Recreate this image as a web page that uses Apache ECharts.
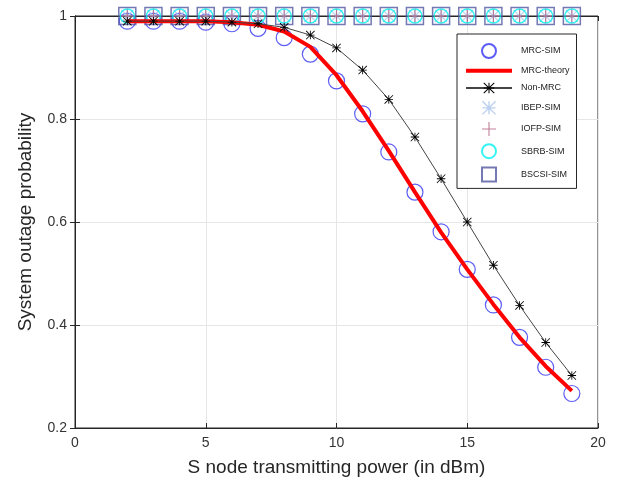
<!DOCTYPE html>
<html>
<head>
<meta charset="utf-8">
<script src="https://cdn.jsdelivr.net/npm/echarts@6/dist/echarts.min.js"></script>
<style>
  html, body { margin: 0; padding: 0; background: #fff; }
  #chart { width: 618px; height: 485px; }
</style>
</head>
<body>
<div id="chart"></div>
<script>
// x values (dBm)
var power = [2, 3, 4, 5, 6, 7, 8, 9, 10, 11, 12, 13, 14, 15, 16, 17, 18, 19];
var mrcSim = [0.99, 0.99, 0.99, 0.988, 0.985, 0.976, 0.958, 0.926, 0.874, 0.81, 0.736, 0.658, 0.581, 0.508, 0.439, 0.376, 0.318, 0.267];
var mrcTheory = [0.99, 0.99, 0.99, 0.99, 0.988, 0.983, 0.97, 0.94, 0.885, 0.815, 0.738, 0.658, 0.58, 0.508, 0.44, 0.376, 0.32, 0.272];
var nonMrc = [0.99, 0.99, 0.99, 0.99, 0.988, 0.985, 0.978, 0.963, 0.938, 0.895, 0.838, 0.765, 0.684, 0.6, 0.516, 0.438, 0.366, 0.302];
var ibepSim = [1, 1, 1, 1, 1, 1, 1, 1, 1, 1, 1, 1, 1, 1, 1, 1, 1, 1];
var iofpSim = [1, 1, 1, 1, 1, 1, 1, 1, 1, 1, 1, 1, 1, 1, 1, 1, 1, 1];
var sbrbSim = [1, 1, 1, 1, 1, 1, 1, 1, 1, 1, 1, 1, 1, 1, 1, 1, 1, 1];
var bscsiSim = [1, 1, 1, 1, 1, 1, 1, 1, 1, 1, 1, 1, 1, 1, 1, 1, 1, 1];

function pairs(ys) {
  return power.map(function (x, i) { return [x, ys[i]]; });
}

// asterisk / plus shapes made of thin bars (all clockwise so they fill as a union)
var starPath = 'path://M0 9H20V11H0Z M9 0H11V20H9Z ' +
  'M0.7 -0.7L20.7 19.3L19.3 20.7L-0.7 0.7Z ' +
  'M20.7 0.7L0.7 20.7L-0.7 19.3L19.3 -0.7Z';
var plusPath = 'path://M0 9.2H20V10.8H0Z M9.2 0H10.8V20H9.2Z';
var squarePath = 'path://M0 0H20V20H0Z';
var barPath = 'path://M0 0H46V4H0Z';

var chart = echarts.init(document.getElementById('chart'));
var font = 'Liberation Sans, Arial, sans-serif';

var option = {
  animation: false,
  grid: { left: 75, right: 20, top: 16, bottom: 57, show: true, borderColor: '#262626', borderWidth: 1 },
  legend: {
    data: [
      { name: 'MRC-SIM' },
      { name: 'MRC-theory', icon: barPath },
      { name: 'Non-MRC' },
      { name: 'IBEP-SIM' },
      { name: 'IOFP-SIM' },
      { name: 'SBRB-SIM' },
      { name: 'BSCSI-SIM' }
    ],
    orient: 'vertical',
    left: 457,
    top: 34,
    width: 120,
    itemWidth: 46,
    itemHeight: 14,
    itemGap: 7.2,
    padding: [9, 7, 6, 8],
    borderColor: '#262626',
    borderWidth: 1,
    backgroundColor: '#fff',
    textStyle: { fontFamily: font, fontSize: 9, color: '#222', padding: [0, 0, 0, 4] }
  },
  xAxis: [{
    type: 'value', min: 0, max: 20, interval: 5,
    name: 'S node transmitting power (in dBm)',
    nameLocation: 'middle', nameGap: 30,
    nameTextStyle: { fontFamily: font, fontSize: 19, color: '#262626' },
    axisLine: { lineStyle: { color: '#262626' } },
    axisTick: { inside: true, length: 5, lineStyle: { color: '#262626' } },
    axisLabel: { fontFamily: font, fontSize: 14, color: '#333', margin: 8 },
    splitLine: { show: true, lineStyle: { color: '#e6e6e6' } }
  }, {
    type: 'value', min: 0, max: 20, interval: 5, position: 'top',
    axisLine: { show: true, lineStyle: { color: '#262626' } },
    axisTick: { inside: true, length: 5, lineStyle: { color: '#262626' } },
    axisLabel: { show: false }, splitLine: { show: false }
  }],
  yAxis: [{
    type: 'value', min: 0.2, max: 1, interval: 0.2,
    name: 'System outage probability',
    nameLocation: 'middle', nameGap: 40,
    nameTextStyle: { fontFamily: font, fontSize: 19, color: '#262626' },
    axisLine: { lineStyle: { color: '#262626' } },
    axisTick: { inside: true, length: 5, lineStyle: { color: '#262626' } },
    axisLabel: { fontFamily: font, fontSize: 14, color: '#333', margin: 8 },
    splitLine: { show: true, lineStyle: { color: '#e6e6e6' } }
  }, {
    type: 'value', min: 0.2, max: 1, interval: 0.2, position: 'right',
    axisLine: { show: true, lineStyle: { color: '#262626' } },
    axisTick: { inside: true, length: 5, lineStyle: { color: '#262626' } },
    axisLabel: { show: false }, splitLine: { show: false }
  }],
  series: [
    {
      name: 'MRC-SIM', type: 'scatter', data: pairs(mrcSim),
      symbol: 'circle', symbolSize: 16,
      itemStyle: { color: 'transparent', borderColor: '#3434f2', borderWidth: 1.2 }
    },
    {
      name: 'MRC-theory', type: 'line', data: pairs(mrcTheory),
      symbol: 'none', lineStyle: { color: '#ff0000', width: 4 },
      itemStyle: { color: '#ff0000' }
    },
    {
      name: 'Non-MRC', type: 'line', data: pairs(nonMrc),
      symbol: starPath, symbolSize: 9,
      lineStyle: { color: '#444', width: 1 },
      itemStyle: { color: '#000' }
    },
    {
      name: 'IBEP-SIM', type: 'scatter', data: pairs(ibepSim),
      symbol: starPath, symbolSize: 13,
      itemStyle: { color: '#a8c2ea' }
    },
    {
      name: 'IOFP-SIM', type: 'scatter', data: pairs(iofpSim),
      symbol: plusPath, symbolSize: 14,
      itemStyle: { color: '#b3607f' }
    },
    {
      name: 'SBRB-SIM', type: 'scatter', data: pairs(sbrbSim),
      symbol: 'circle', symbolSize: 14,
      itemStyle: { color: 'transparent', borderColor: '#00f0f0', borderWidth: 1.5 }
    },
    {
      name: 'BSCSI-SIM', type: 'scatter', data: pairs(bscsiSim),
      symbol: squarePath, symbolSize: 17,
      itemStyle: { color: 'transparent', borderColor: '#5358a0', borderWidth: 1.5 }
    }
  ]
};

chart.setOption(option);
</script>
</body>
</html>
